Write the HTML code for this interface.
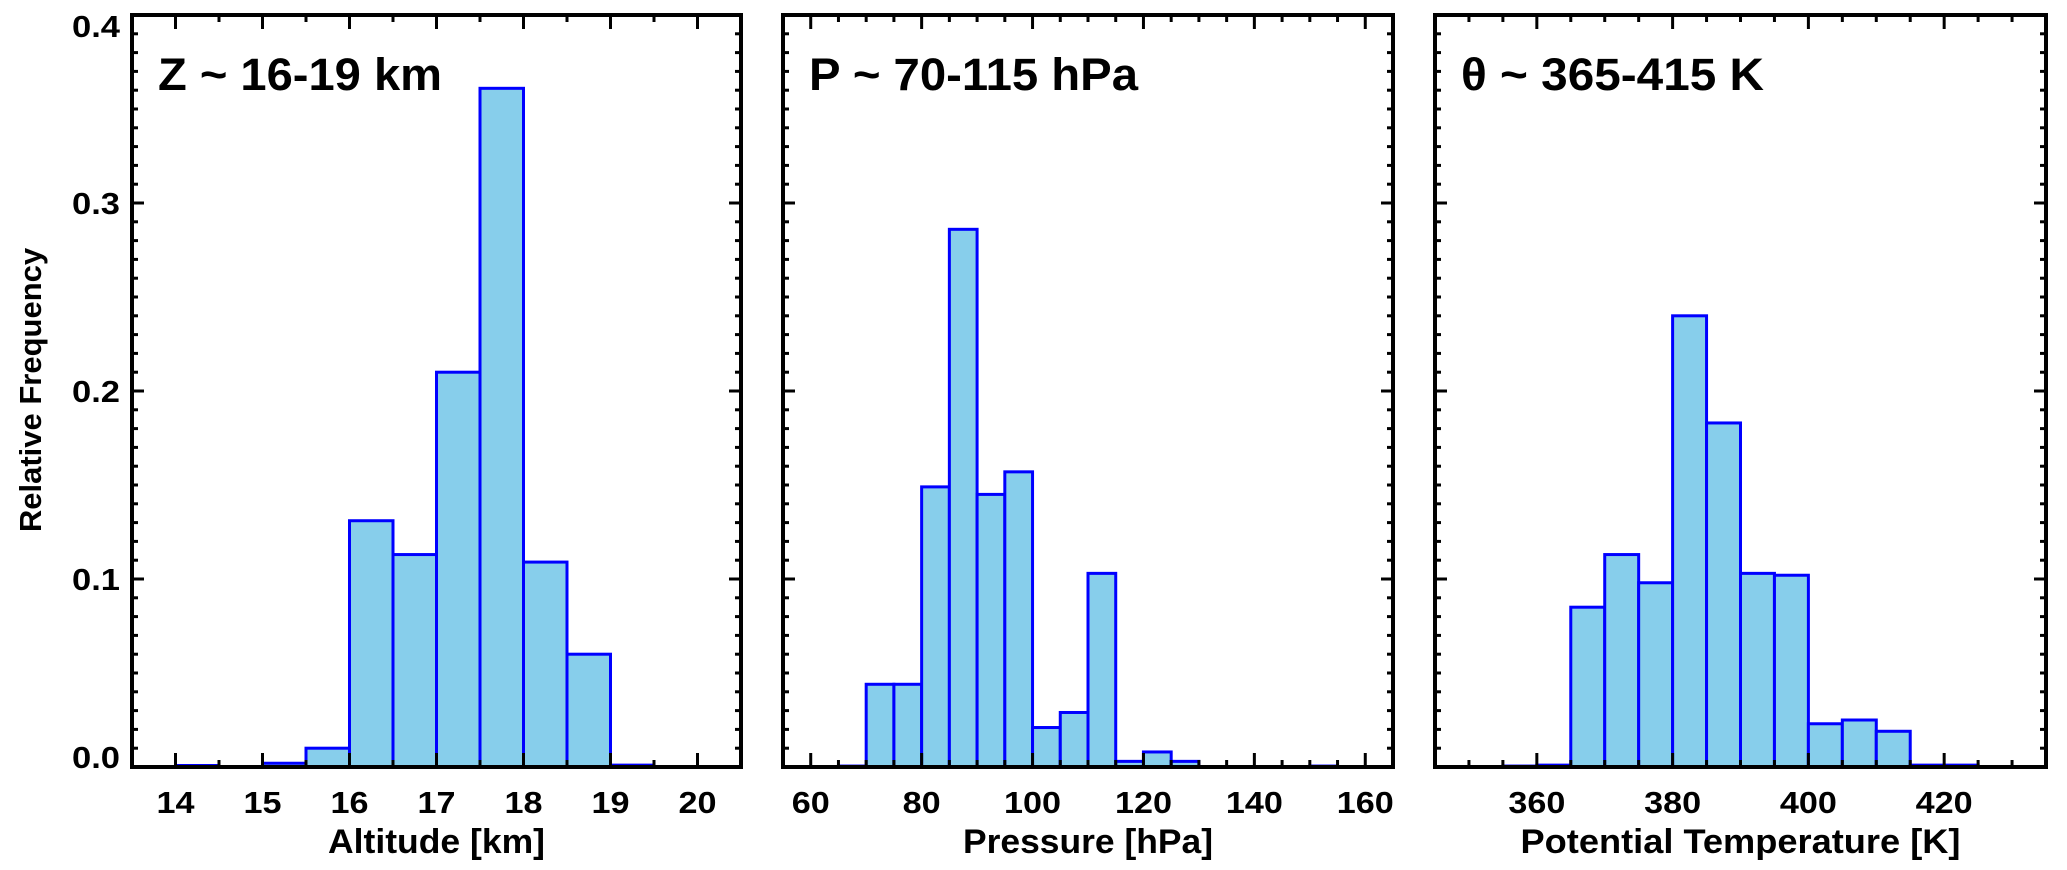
<!DOCTYPE html>
<html><head><meta charset="utf-8"><style>
html,body{margin:0;padding:0;background:#fff;}
svg{display:block;}
text{font-family:"Liberation Sans",sans-serif;font-weight:bold;fill:#000;}
</style></head>
<body>
<svg id="chart" width="2067" height="870" viewBox="0 0 2067 870" xmlns="http://www.w3.org/2000/svg">
<text x="0" y="0" font-size="31" text-anchor="middle" transform="translate(41,390) rotate(-90)">Relative Frequency</text>
</svg>
<script>
// Panel 1: altitude
const altEdges = [14,14.5,15,15.5,16,16.5,17,17.5,18,18.5,19];
const altValues = [0.0008,0,0.002,0.010,0.131,0.113,0.210,0.361,0.109,0.060,0.001];
// Panel 2: pressure
const presEdges = [65,70,75,80,85,90,95,100,105,110,115,120,125,150];
const presValues = [0.0005,0.044,0.044,0.149,0.286,0.145,0.157,0.021,0.029,0.103,0.003,0.008,0.003,0.0005];
// Panel 3: potential temperature
const thEdges = [355,360,365,370,375,380,385,390,395,400,405,410,415,420];
const thValues = [0.0005,0.001,0.085,0.113,0.098,0.240,0.183,0.103,0.102,0.023,0.025,0.019,0.001,0.001];
const xTicks1 = [14,15,16,17,18,19,20];
const xTicks2 = [60,80,100,120,140,160];
const xTicks3 = [360,380,400,420];
const yTicks = [0.0,0.1,0.2,0.3,0.4];
const titles = ["Z ~ 16-19 km","P ~ 70-115 hPa","θ ~ 365-415 K"];
const xTitles = ["Altitude [km]","Pressure [hPa]","Potential Temperature [K]"];

const svg = document.getElementById('chart');
const NS = 'http://www.w3.org/2000/svg';
function mk(tag, attrs, parent){
  const e = document.createElementNS(NS, tag);
  for (const k in attrs) e.setAttribute(k, attrs[k]);
  (parent||svg).appendChild(e);
  return e;
}
const Y0 = 767, Y1 = 15, YMAX = 0.4;
function yS(v){ return Y0 - (v/YMAX)*(Y0-Y1); }

const panels = [
  {x0:132,x1:741,min:13.5,max:20.5,edges:altEdges,vals:altValues,binW:0.5,ticks:xTicks1,minor:0.5,titleW:284,xtW:[217]},
  {x0:783,x1:1393,min:55,max:165,edges:presEdges,vals:presValues,binW:5,ticks:xTicks2,minor:5},
  {x0:1435,x1:2046,min:345,max:435,edges:thEdges,vals:thValues,binW:5,ticks:xTicks3,minor:5}
];
const titleWidths = [284,329,303];
const xTitleWidths = [217,250,440];

panels.forEach((p, i) => {
  const g = mk('g', {});
  
  
  const xS = v => p.x0 + (v - p.min)/(p.max - p.min)*(p.x1 - p.x0);
  // bars
  p.edges.forEach((e, j) => {
    const v = p.vals[j];
    const r = mk('rect', {x: xS(e), y: yS(v), width: xS(e+p.binW)-xS(e), height: Math.max(0, Y0 - yS(v)), fill:'#87CEEB', stroke:'#0000FF', 'stroke-width':3}, g);
    
    
  });
  // x ticks
  for (let t = Math.ceil(p.min/p.minor)*p.minor; t <= p.max + 1e-9; t += p.minor) {
    const isMajor = p.ticks.some(m => Math.abs(m - t) < 1e-6);
    const L = isMajor ? 14 : 7;
    mk('line', {x1:xS(t), x2:xS(t), y1:Y0, y2:Y0-L, stroke:'#000','stroke-width':3}, g);
    mk('line', {x1:xS(t), x2:xS(t), y1:Y1, y2:Y1+L, stroke:'#000','stroke-width':3}, g);
  }
  // y ticks
  for (let k = 0; k <= 40; k++) {
    const v = k*0.01;
    const L = (k % 10 === 0) ? 12 : 6;
    mk('line', {x1:p.x0, x2:p.x0+L, y1:yS(v), y2:yS(v), stroke:'#000','stroke-width':3}, g);
    mk('line', {x1:p.x1, x2:p.x1-L, y1:yS(v), y2:yS(v), stroke:'#000','stroke-width':3}, g);
  }
  // frame
  const f = mk('rect', {x:p.x0, y:Y1, width:p.x1-p.x0, height:Y0-Y1, fill:'none', stroke:'#000','stroke-width':4}, g);
  
  
  // x tick labels
  p.ticks.forEach(t => {
    const tx = mk('text', {x:xS(t), y:813, 'font-size':31, 'text-anchor':'middle', textLength: String(t).length*19, lengthAdjust:'spacingAndGlyphs'}, g);
    tx.textContent = t;
    
    
  });
  // x axis title
  const xt = mk('text', {x:(p.x0+p.x1)/2, y:853, 'font-size':34, 'text-anchor':'middle', textLength:xTitleWidths[i], lengthAdjust:'spacingAndGlyphs'}, g);
  xt.textContent = xTitles[i];
  
  
  // panel title
  const tt = mk('text', {x:p.x0+26, y:90, 'font-size':45, textLength:titleWidths[i], lengthAdjust:'spacingAndGlyphs'}, g);
  tt.textContent = titles[i];
  
  
  // y tick labels (first panel only)
  if (i === 0) {
    yTicks.forEach(v => {
      let yy = yS(v) + 11;
      if (v === 0) yy = 768;
      if (v === 0.4) yy = 37;
      const yt = mk('text', {x:120, y:yy, 'font-size':31, 'text-anchor':'end', textLength:48, lengthAdjust:'spacingAndGlyphs'}, g);
      yt.textContent = v.toFixed(1);
      
      
    });
  }
});
</script>
</body></html>
